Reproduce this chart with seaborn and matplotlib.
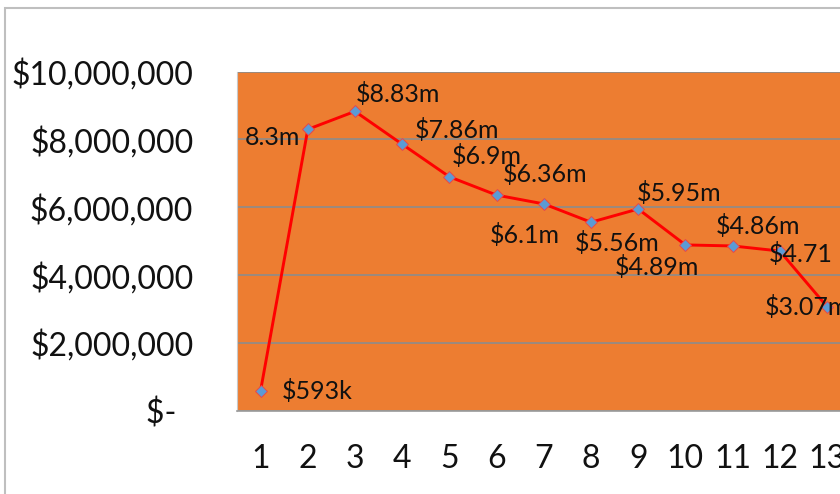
import matplotlib
matplotlib.use("Agg")
import matplotlib.pyplot as plt
from matplotlib.patches import Rectangle
from matplotlib.ticker import FixedLocator, FuncFormatter
import seaborn as sns
import pandas as pd

# Yearly revenue per period
periods = [1, 2, 3, 4, 5, 6, 7, 8, 9, 10, 11, 12, 13]
revenue = [593_000, 8_300_000, 8_830_000, 7_860_000, 6_900_000, 6_360_000,
           6_100_000, 5_560_000, 5_950_000, 4_890_000, 4_860_000, 4_710_000,
           3_070_000]
value_labels = ["$593k", "8.3m", "$8.83m", "$7.86m", "$6.9m", "$6.36m", "$6.1m",
                "$5.56m", "$5.95m", "$4.89m", "$4.86m", "$4.71", "$3.07m"]
y_ticks = [0, 2_000_000, 4_000_000, 6_000_000, 8_000_000, 10_000_000]

# where each value label sits relative to its point (pixels, up is positive)
label_offsets = [(57, 0), (-35, -8), (43, 17), (55, 14), (37, 21), (48, 21),
                 (-19, -31), (26, -21), (41, 16), (-28, -22), (25, 20),
                 (21, -3), (-20, 0)]

sns.set_style("white")
plt.rcParams["font.family"] = ["Lato", "DejaVu Sans"]

W, H = 840, 494
fig = plt.figure(figsize=(W / 100, H / 100), dpi=100)
fig.patch.set_facecolor("white")

# outer chart frame
fig.add_artist(Rectangle((5 / W, -0.2), 1.2, (H - 8) / H + 0.2,
                         transform=fig.transFigure, fill=False,
                         edgecolor="#bfbfbf", linewidth=1.5))

left, right = 237 / W, 850.6 / W
bottom, top = (H - 410.7) / H, (H - 71.7) / H
ax = fig.add_axes([left, bottom, right - left, top - bottom])
ax.set_facecolor("#ED7D31")

df = pd.DataFrame({"period": periods, "revenue": revenue})
sns.lineplot(data=df, x="period", y="revenue", ax=ax, color="#FF0000",
             linewidth=2.1, marker="D", markersize=6.3,
             markerfacecolor="#5B9BD5", markeredgecolor="#E8484A",
             markeredgewidth=0.7, zorder=3)

ax.set_xlim(0.5, 13.5)
ax.set_ylim(0, 10_000_000)

def money(v, pos=None):
    if v == 0:
        return "$-  "
    return f"${v:,.0f}"

ax.yaxis.set_major_locator(FixedLocator(y_ticks))
ax.yaxis.set_major_formatter(FuncFormatter(money))
ax.set_xticks(periods)
ax.set_xticklabels([str(p) for p in periods])
ax.set_xticks([p - 0.5 for p in periods] + [13.5], minor=True)

ax.grid(axis="y", color="#8c8c8c", linewidth=1.2)
ax.grid(axis="x", visible=False)
ax.set_axisbelow(True)

ax.tick_params(axis="y", which="major", length=9.5, width=1, color="#8c8c8c",
               labelsize=23, pad=22, labelcolor="#111111")
ax.tick_params(axis="x", which="major", length=0, labelsize=23, pad=24,
               labelcolor="#111111")
ax.tick_params(axis="x", which="minor", length=8, width=1, color="#c0c0c0")

for side in ("top", "right"):
    ax.spines[side].set_visible(False)
ax.spines["left"].set_color("#c8c8c8")
ax.spines["bottom"].set_color("#9a9a9a")
ax.spines["bottom"].set_linewidth(1.2)

ax.set_xlabel("")
ax.set_ylabel("")

for x, y, text, (dx, dy) in zip(periods, revenue, value_labels, label_offsets):
    ax.annotate(text, (x, y), xytext=(dx, dy), textcoords="offset pixels",
                ha="center", va="center", fontsize=18, color="#111111",
                zorder=4)

fig.savefig("out.png", dpi=100)
